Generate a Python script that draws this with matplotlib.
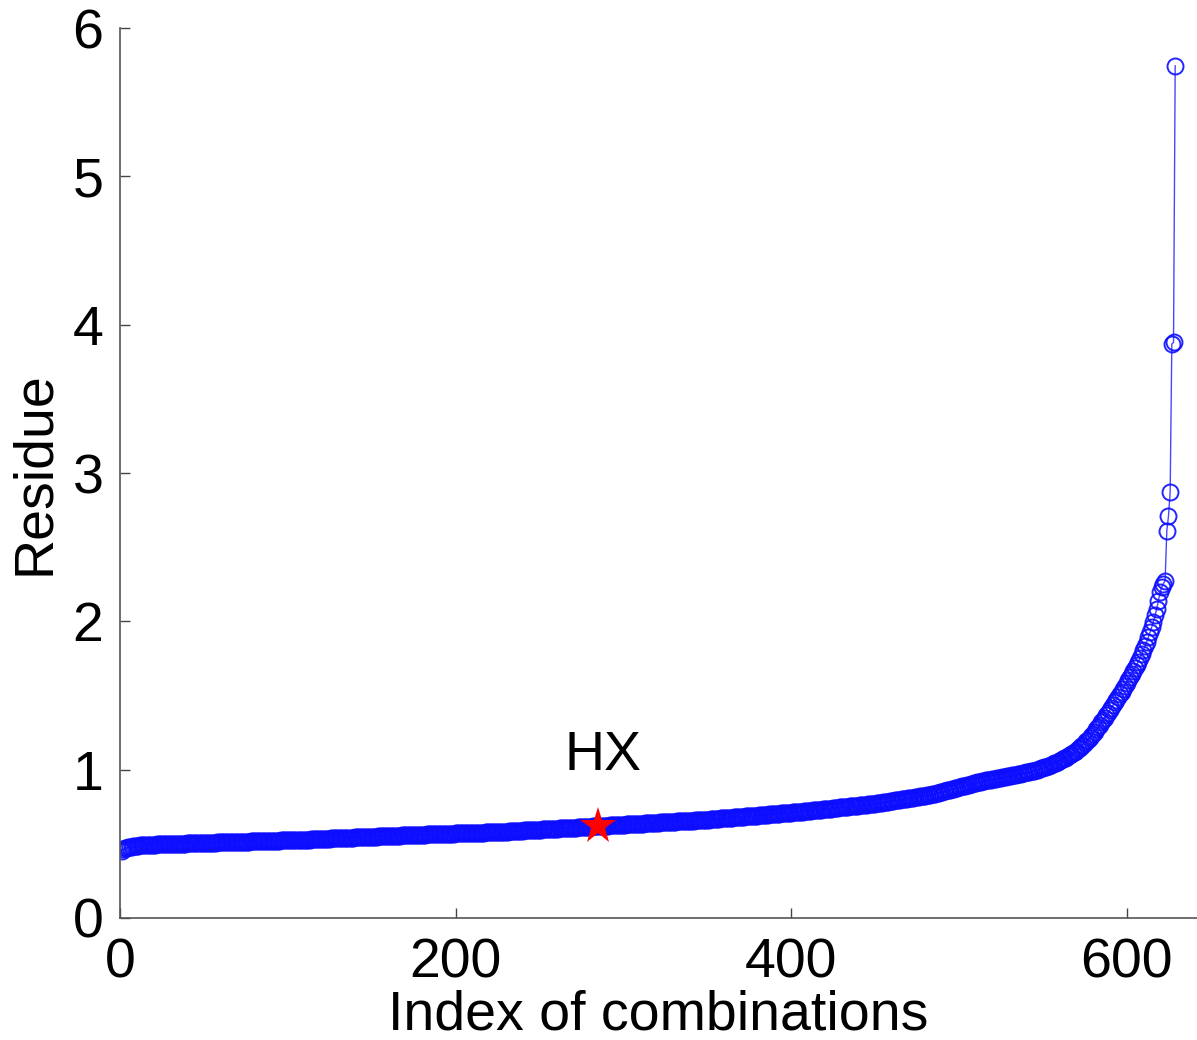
import numpy as np
import matplotlib.pyplot as plt

# sorted residue of every combination (index 1..629)
residue = [
    0.455, 0.463, 0.470, 0.474, 0.478, 0.480, 0.482, 0.484, 0.486, 0.487,
    0.488, 0.489, 0.490, 0.491, 0.491, 0.492, 0.493, 0.493, 0.494, 0.495,
    0.495, 0.496, 0.496, 0.497, 0.497, 0.498, 0.498, 0.498, 0.499, 0.499,
    0.500, 0.500, 0.500, 0.501, 0.501, 0.501, 0.502, 0.502, 0.502, 0.503,
    0.503, 0.503, 0.504, 0.504, 0.504, 0.505, 0.505, 0.505, 0.506, 0.506,
    0.506, 0.507, 0.507, 0.507, 0.508, 0.508, 0.508, 0.509, 0.509, 0.509,
    0.510, 0.510, 0.510, 0.511, 0.511, 0.511, 0.512, 0.512, 0.513, 0.513,
    0.513, 0.514, 0.514, 0.514, 0.515, 0.515, 0.515, 0.516, 0.516, 0.517,
    0.517, 0.517, 0.518, 0.518, 0.518, 0.519, 0.519, 0.520, 0.520, 0.520,
    0.521, 0.521, 0.521, 0.522, 0.522, 0.523, 0.523, 0.523, 0.524, 0.524,
    0.524, 0.525, 0.525, 0.525, 0.526, 0.526, 0.526, 0.527, 0.527, 0.528,
    0.528, 0.529, 0.529, 0.530, 0.530, 0.531, 0.531, 0.532, 0.532, 0.533,
    0.533, 0.534, 0.534, 0.535, 0.535, 0.536, 0.536, 0.537, 0.537, 0.538,
    0.538, 0.539, 0.539, 0.540, 0.540, 0.541, 0.541, 0.542, 0.542, 0.543,
    0.543, 0.544, 0.544, 0.545, 0.545, 0.546, 0.546, 0.547, 0.547, 0.548,
    0.548, 0.549, 0.549, 0.550, 0.550, 0.551, 0.551, 0.552, 0.552, 0.553,
    0.553, 0.554, 0.554, 0.555, 0.555, 0.556, 0.556, 0.557, 0.557, 0.558,
    0.558, 0.558, 0.559, 0.559, 0.560, 0.560, 0.560, 0.561, 0.561, 0.562,
    0.562, 0.562, 0.563, 0.563, 0.564, 0.564, 0.564, 0.565, 0.565, 0.566,
    0.566, 0.566, 0.567, 0.567, 0.568, 0.568, 0.568, 0.569, 0.569, 0.570,
    0.570, 0.570, 0.571, 0.571, 0.572, 0.572, 0.572, 0.573, 0.573, 0.574,
    0.574, 0.574, 0.575, 0.575, 0.576, 0.576, 0.576, 0.577, 0.577, 0.578,
    0.578, 0.578, 0.579, 0.579, 0.580, 0.580, 0.581, 0.581, 0.582, 0.582,
    0.583, 0.584, 0.584, 0.585, 0.586, 0.586, 0.587, 0.588, 0.588, 0.589,
    0.590, 0.590, 0.591, 0.592, 0.592, 0.593, 0.594, 0.594, 0.595, 0.596,
    0.596, 0.597, 0.598, 0.598, 0.599, 0.600, 0.600, 0.601, 0.602, 0.602,
    0.603, 0.604, 0.604, 0.605, 0.606, 0.606, 0.607, 0.608, 0.608, 0.609,
    0.610, 0.610, 0.611, 0.612, 0.612, 0.613, 0.614, 0.614, 0.615, 0.616,
    0.616, 0.617, 0.618, 0.619, 0.620, 0.620, 0.621, 0.621, 0.622, 0.623,
    0.623, 0.624, 0.625, 0.625, 0.626, 0.627, 0.627, 0.628, 0.629, 0.629,
    0.630, 0.631, 0.631, 0.632, 0.633, 0.633, 0.634, 0.635, 0.635, 0.636,
    0.637, 0.637, 0.638, 0.639, 0.639, 0.640, 0.641, 0.641, 0.642, 0.643,
    0.643, 0.644, 0.645, 0.645, 0.646, 0.647, 0.647, 0.648, 0.649, 0.649,
    0.650, 0.651, 0.651, 0.652, 0.653, 0.653, 0.654, 0.655, 0.655, 0.656,
    0.657, 0.657, 0.658, 0.659, 0.659, 0.660, 0.661, 0.661, 0.662, 0.663,
    0.664, 0.665, 0.666, 0.667, 0.668, 0.669, 0.670, 0.671, 0.671, 0.672,
    0.673, 0.674, 0.675, 0.676, 0.677, 0.678, 0.679, 0.680, 0.681, 0.682,
    0.683, 0.684, 0.685, 0.686, 0.687, 0.688, 0.689, 0.690, 0.690, 0.691,
    0.692, 0.693, 0.694, 0.695, 0.696, 0.697, 0.698, 0.699, 0.700, 0.701,
    0.702, 0.703, 0.704, 0.705, 0.706, 0.707, 0.708, 0.709, 0.710, 0.711,
    0.712, 0.713, 0.714, 0.715, 0.715, 0.716, 0.717, 0.718, 0.720, 0.721,
    0.722, 0.723, 0.725, 0.726, 0.727, 0.728, 0.730, 0.731, 0.732, 0.733,
    0.735, 0.736, 0.737, 0.738, 0.740, 0.741, 0.742, 0.743, 0.745, 0.746,
    0.747, 0.748, 0.750, 0.751, 0.752, 0.753, 0.755, 0.756, 0.757, 0.758,
    0.760, 0.761, 0.762, 0.763, 0.765, 0.766, 0.767, 0.768, 0.770, 0.771,
    0.772, 0.774, 0.775, 0.777, 0.779, 0.781, 0.783, 0.785, 0.787, 0.789,
    0.791, 0.793, 0.794, 0.796, 0.798, 0.800, 0.802, 0.803, 0.805, 0.807,
    0.809, 0.811, 0.812, 0.814, 0.816, 0.818, 0.820, 0.821, 0.823, 0.825,
    0.827, 0.828, 0.830, 0.833, 0.836, 0.839, 0.842, 0.845, 0.848, 0.851,
    0.854, 0.857, 0.860, 0.863, 0.866, 0.869, 0.872, 0.875, 0.878, 0.881,
    0.884, 0.887, 0.890, 0.893, 0.896, 0.899, 0.902, 0.905, 0.908, 0.911,
    0.914, 0.917, 0.920, 0.922, 0.924, 0.927, 0.929, 0.931, 0.933, 0.935,
    0.937, 0.940, 0.942, 0.944, 0.946, 0.949, 0.951, 0.953, 0.955, 0.958,
    0.960, 0.962, 0.964, 0.967, 0.969, 0.971, 0.973, 0.976, 0.978, 0.981,
    0.983, 0.985, 0.988, 0.991, 0.994, 0.997, 1.000, 1.004, 1.008, 1.012,
    1.016, 1.020, 1.024, 1.028, 1.033, 1.038, 1.043, 1.048, 1.053, 1.058,
    1.064, 1.070, 1.076, 1.082, 1.089, 1.096, 1.103, 1.111, 1.119, 1.128,
    1.137, 1.147, 1.157, 1.168, 1.179, 1.191, 1.203, 1.216, 1.229, 1.243,
    1.257, 1.272, 1.287, 1.302, 1.318, 1.334, 1.350, 1.367, 1.384, 1.401,
    1.418, 1.436, 1.454, 1.472, 1.490, 1.508, 1.526, 1.545, 1.565, 1.585,
    1.605, 1.625, 1.645, 1.665, 1.685, 1.705, 1.728, 1.752, 1.778, 1.805,
    1.833, 1.862, 1.892, 1.925, 1.960, 1.998, 2.040, 2.085, 2.140, 2.195,
    2.230, 2.255, 2.275, 2.610, 2.710, 2.870, 3.870, 3.880, 5.745,
]
index = np.arange(1, len(residue) + 1)

# the HX combination
hx_index = 285
hx_label = 'HX'

xticks = [0, 200, 400, 600]
yticks = [0, 1, 2, 3, 4, 5, 6]

plt.rcParams['font.family'] = ['Liberation Sans', 'DejaVu Sans']

fig = plt.figure(figsize=(11.97, 10.40), dpi=100)
ax = fig.add_axes([120/1197, 122/1040, 1077/1197, 890/1040])

ax.plot(index, residue, color=(0.2, 0.2, 1.0), linestyle='-', linewidth=1.0,
        marker='o', markersize=11.5, markerfacecolor='none',
        markeredgecolor=(0.05, 0.05, 1.0), markeredgewidth=1.4, alpha=0.9)

hx_value = residue[hx_index - 1]
ax.plot(hx_index, hx_value, marker='*', color='red', markersize=28,
        markeredgewidth=0, zorder=5)
ax.text(hx_index + 3, hx_value + 0.30, hx_label, fontsize=40,
        ha='center', va='bottom')

ax.set_xlim(0, 642)
ax.set_ylim(0, 6)
ax.set_xticks(xticks)
ax.set_yticks(yticks)
ax.tick_params(direction='in', length=7, width=1, labelsize=40,
               colors='#444444', labelcolor='black')
ax.tick_params(axis='x', pad=14)
ax.tick_params(axis='y', pad=12)
for side in ['top', 'right']:
    ax.spines[side].set_visible(False)
for side in ['left', 'bottom']:
    ax.spines[side].set_color('#555555')
    ax.spines[side].set_linewidth(1.2)

ax.set_xlabel('Index of combinations', fontsize=40, labelpad=0)
ax.set_ylabel('Residue', fontsize=40, labelpad=8)

fig.savefig('out.png', dpi=100)
